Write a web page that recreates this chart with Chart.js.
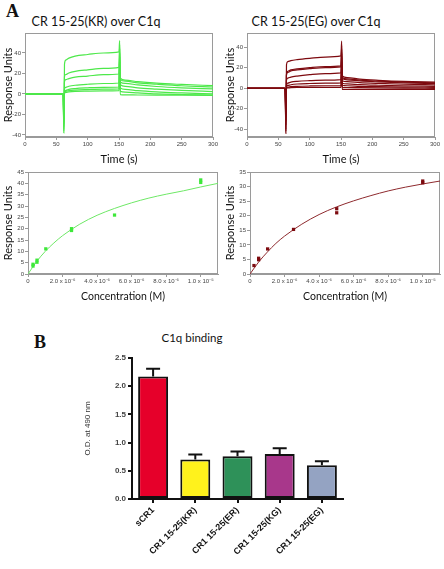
<!DOCTYPE html>
<html>
<head>
<meta charset="utf-8">
<script src="https://cdn.jsdelivr.net/npm/chart.js@4.4.1/dist/chart.umd.min.js"></script>
<style>
  body { margin: 0; background: #fff; width: 444px; height: 569px; position: relative; overflow: hidden; font-family: Lato, sans-serif; }
  canvas { position: absolute; }
  .t { position: absolute; text-align: center; white-space: nowrap; color: #111; }
</style>
</head>
<body>
<div class="t" style="left:6px;top:1px;font:bold 18px 'Liberation Serif'">A</div>
<div class="t" style="left:20px;top:13px;width:152px;font-size:12.5px;line-height:18px">CR 15-25(KR) over C1q</div>
<div class="t" style="left:240px;top:13px;width:152px;font-size:12.5px;line-height:18px">CR 15-25(EG) over C1q</div>
<div class="t" style="left:34px;top:332px;font:bold 18px 'Liberation Serif'">B</div>
<div class="t" style="left:142px;top:329px;width:100px;font-size:11.5px;line-height:18px">C1q binding</div>

<canvas id="krSensor" width="222" height="170" style="left:0;top:0"></canvas>
<canvas id="egSensor" width="222" height="170" style="left:222px;top:0"></canvas>
<canvas id="krFit" width="222" height="140" style="left:0;top:165px"></canvas>
<canvas id="egFit" width="222" height="140" style="left:222px;top:165px"></canvas>
<canvas id="bars" width="300" height="249" style="left:60px;top:320px"></canvas>

<script>
'use strict';

// sensorgram sample times (s)
let sensorTime = [0, 60, 61, 62, 63, 65, 70, 80, 100, 125, 150, 151, 152, 160, 180, 210, 250, 300];

let krCurves = [
  [0, 0, -1, -38, 29, 33, 35, 37, 38.5, 40, 41, 52, 15.5, 13.5, 12, 10.5, 9.3, 8.1],
  [0, 0, -1, -36, 17, 19, 20.5, 22, 23.5, 25, 26, 48, 14, 12.5, 10.8, 9.5, 8, 6.8],
  [0, 0, -1, -34, 12, 14, 15, 16.5, 17.5, 18.8, 19.5, 44, 11.7, 10.3, 8.8, 7.3, 6, 4.9],
  [0, 0, -1, -32, 5, 6.5, 7.5, 8.5, 9.5, 10.2, 10.7, 40, 9, 7.5, 6, 4.8, 3.5, 2.3],
  [0, 0, -1, -30, 2, 3.5, 4.5, 5.3, 6, 6.5, 6.8, 36, 6, 4.5, 3.2, 2, 1, 0],
  [0, 0, -1, -28, 1, 2.5, 3.2, 3.8, 4.3, 4.7, 4.9, 32, 2.6, 1.8, 1, 0, -0.5, -1],
  [0, 0, -1, -26, 0.5, 1.5, 2, 2.5, 2.8, 3, 3.2, 28, -0.7, -0.9, -1, -1.1, -1.2, -1.3]
];

let egCurves = [
  [0, 0, -1, -44, 23, 26, 27, 28, 29.3, 30.5, 31.6, 46, 12, 10.5, 9, 7.8, 6.7, 6],
  [0, 0, -1, -42, 14, 16.5, 18, 19, 20.3, 21.3, 22, 42, 10.5, 9.2, 8, 7, 6, 5.3],
  [0, 0, -1, -40, 13, 15.5, 17, 18, 19.3, 20.3, 21, 38, 9.5, 8.3, 7.2, 6.3, 5.4, 4.7],
  [0, 0, -1, -36, 8, 10, 11, 12, 13.3, 14.3, 15, 34, 7.5, 6.5, 5.6, 4.8, 4, 3.4],
  [0, 0, -1, -32, 3, 5, 6, 6.8, 7.5, 8, 8.5, 30, 5, 4.3, 3.6, 3, 2.4, 2],
  [0, 0, -1, -28, 1.5, 2.8, 3.5, 4.2, 4.7, 5, 5.3, 26, 3, 2.5, 2, 1.6, 1.2, 1],
  [0, 0, -1, -24, 0.5, 1.2, 1.7, 2, 2.3, 2.5, 2.6, 22, 1, 0.8, 0.6, 0.4, 0.2, 0],
  [0, 0, -1, -20, 0, 0.4, 0.6, 0.8, 0.9, 1, 1, 18, -1, -1, -1, -1, -1, -1]
];

// steady state binding points (M, RU)
let krConc = [2.9e-7, 2.9e-7, 5.2e-7, 5.2e-7, 1.03e-6, 2.52e-6, 2.52e-6, 5.01e-6, 1e-5, 1e-5];
let krResp = [3.5, 4.3, 5.2, 6.1, 11.1, 19.2, 20, 26, 40.4, 41.5];
let egConc = [2.3e-7, 5e-7, 5e-7, 1.02e-6, 2.52e-6, 5.02e-6, 5.02e-6, 1e-5, 1e-5];
let egResp = [2.9, 5.4, 4.9, 8.6, 15.3, 22.4, 21, 31.9, 31.3];

// fitted curves
let fitConc = [0, 5e-7, 1e-6, 1.5e-6, 2e-6, 3e-6, 4e-6, 5e-6, 6e-6, 7e-6, 8e-6, 9e-6, 1e-5, 1.1e-5];
let krFitResp = [0, 5.5, 10, 13.7, 16.9, 22, 25.9, 28.9, 31.4, 33.5, 35.2, 36.7, 38.4, 40];
let egFitResp = [0, 4.1, 7.5, 10.5, 13, 17.1, 20.4, 23, 25.1, 26.9, 28.5, 29.8, 30.9, 31.9];

let concTickLabels = ['0', '2.0 x 10\u207B\u2076', '4.0 x 10\u207B\u2076', '6.0 x 10\u207B\u2076', '8.0 x 10\u207B\u2076', '1.0 x 10\u207B\u2075'];

// ELISA
let bCats = ['sCR1', 'CR1 15-25(KR)', 'CR1 15-25(ER)', 'CR1 15-25(KG)', 'CR1 15-25(EG)'];
let bMeans = [2.17, 0.70, 0.76, 0.80, 0.60];
let bErr = [0.14, 0.09, 0.08, 0.10, 0.07];
let bColors = ['#e6002a', '#fff21c', '#2e9159', '#a8378b', '#94a3c2'];

Chart.defaults.font.family = 'Lato, sans-serif';

let frame = {
  id: 'frame',
  beforeDatasetsDraw(chart) {
    let a = chart.chartArea;
    let c = chart.ctx;
    c.save();
    c.strokeStyle = '#9a9a9a';
    c.lineWidth = 1;
    c.strokeRect(a.left + 0.5, a.top + 0.5, a.right - a.left - 1, a.bottom - a.top - 1);
    c.restore();
  }
};

let errorBars = {
  id: 'errorBars',
  afterDatasetsDraw(chart) {
    let c = chart.ctx;
    let ys = chart.scales.y;
    chart.getDatasetMeta(0).data.forEach(function (bar, i) {
      let top = ys.getPixelForValue(bMeans[i] + bErr[i]);
      c.save();
      c.strokeStyle = '#111';
      c.lineWidth = 2;
      c.beginPath();
      c.moveTo(bar.x, bar.y);
      c.lineTo(bar.x, top);
      c.moveTo(bar.x - 7, top);
      c.lineTo(bar.x + 7, top);
      c.stroke();
      c.restore();
    });
  }
};

let smallTicks = {font: {size: 6, family: 'Liberation Sans'}, color: '#444', padding: 1, maxRotation: 0, includeBounds: false};
let thinGrid = {drawOnChartArea: false, tickLength: 3, color: '#9a9a9a'};

function sensorChart(id, curves, color, yMin, yMax) {
  new Chart(document.getElementById(id), {
    type: 'line',
    data: {
      datasets: curves.map(function (c) {
        return {
          data: sensorTime.map((t, i) => ({x: t, y: c[i]})),
          borderColor: color,
          borderWidth: 1.2,
          pointRadius: 0,
          cubicInterpolationMode: 'monotone',
          fill: false
        };
      })
    },
    options: {
      responsive: false,
      animation: false,
      layout: {padding: {left: 0, top: 33, right: 9, bottom: 0}},
      plugins: {legend: {display: false}, tooltip: {enabled: false}},
      scales: {
        x: {
          type: 'linear', min: 0, max: 300,
          ticks: Object.assign({stepSize: 50}, smallTicks),
          grid: thinGrid,
          border: {color: '#9a9a9a'},
          title: {display: true, text: 'Time (s)', font: {size: 11}, color: '#111', padding: {top: 0, bottom: 4}},
          afterFit: ax => { ax.height = 33; }
        },
        y: {
          min: yMin, max: yMax,
          ticks: Object.assign({stepSize: 20}, smallTicks),
          grid: thinGrid,
          border: {color: '#9a9a9a'},
          title: {display: true, text: 'Response Units', font: {size: 11}, color: '#111', padding: {top: 2, bottom: 0}},
          afterFit: ax => { ax.width = 25; }
        }
      }
    },
    plugins: [frame]
  });
}

function fitChart(id, conc, resp, fitResp, color, lineColor, yMax) {
  new Chart(document.getElementById(id), {
    type: 'scatter',
    data: {
      datasets: [{
        data: conc.map((x, i) => ({x: x, y: resp[i]})),
        pointStyle: 'rect',
        pointRadius: 2.3,
        backgroundColor: color,
        borderColor: color,
        borderWidth: 0
      }, {
        data: fitConc.map((x, i) => ({x: x, y: fitResp[i]})),
        showLine: true,
        pointRadius: 0,
        borderColor: lineColor,
        borderWidth: 1,
        cubicInterpolationMode: 'monotone'
      }]
    },
    options: {
      responsive: false,
      animation: false,
      layout: {padding: {left: 0, top: 7, right: 4, bottom: 0}},
      plugins: {legend: {display: false}, tooltip: {enabled: false}},
      scales: {
        x: {
          type: 'linear', min: 0, max: 1.1e-5,
          ticks: Object.assign({stepSize: 2e-6, callback: (v, i) => concTickLabels[i]}, smallTicks),
          grid: thinGrid,
          border: {color: '#9a9a9a'},
          title: {display: true, text: 'Concentration (M)', font: {size: 10.5}, color: '#111', padding: {top: 0, bottom: 2}},
          afterFit: ax => { ax.height = 31; }
        },
        y: {
          min: 0, max: yMax,
          ticks: Object.assign({stepSize: 5}, smallTicks),
          grid: thinGrid,
          border: {color: '#9a9a9a'},
          title: {display: true, text: 'Response Units', font: {size: 11}, color: '#111', padding: {top: 2, bottom: 0}},
          afterFit: ax => { ax.width = 28; }
        }
      }
    },
    plugins: [frame]
  });
}

sensorChart('krSensor', krCurves, '#4de84a', -42, 59.5);
sensorChart('egSensor', egCurves, '#7d0a0f', -47.5, 54);
fitChart('krFit', krConc, krResp, krFitResp, '#3ee83a', '#6ee866', 45);
fitChart('egFit', egConc, egResp, egFitResp, '#7d0a0f', '#8e2a2e', 35);

new Chart(document.getElementById('bars'), {
  type: 'bar',
  data: {
    labels: bCats,
    datasets: [{
      data: bMeans,
      backgroundColor: bColors,
      borderColor: '#111',
      borderWidth: 2,
      borderSkipped: false,
      categoryPercentage: 1,
      barPercentage: 0.71
    }]
  },
  options: {
    responsive: false,
    animation: false,
    layout: {padding: {left: 20, top: 38, right: 17, bottom: 0}},
    plugins: {legend: {display: false}, tooltip: {enabled: false}},
    scales: {
      x: {
        ticks: {font: {size: 9, weight: 'bold', family: 'Liberation Sans'}, color: '#111', minRotation: 45, maxRotation: 45, autoSkip: false, padding: 2},
        grid: {drawOnChartArea: false, offset: false, tickLength: 4, color: '#111', lineWidth: 2},
        border: {color: '#111', width: 2},
        afterFit: ax => { ax.height = 70; }
      },
      y: {
        min: 0, max: 2.5,
        ticks: {stepSize: 0.5, font: {size: 8, weight: 'bold', family: 'Liberation Sans'}, color: '#444', padding: 2, callback: v => v.toFixed(1)},
        grid: {drawOnChartArea: false, tickLength: 4, color: '#111', lineWidth: 2},
        border: {color: '#111', width: 2},
        title: {display: true, text: 'O.D. at 490 nm', font: {size: 8, family: 'Liberation Sans'}, color: '#333', padding: {top: 3, bottom: 0}},
        afterFit: ax => { ax.width = 52; }
      }
    }
  },
  plugins: [errorBars]
});
</script>
</body>
</html>
